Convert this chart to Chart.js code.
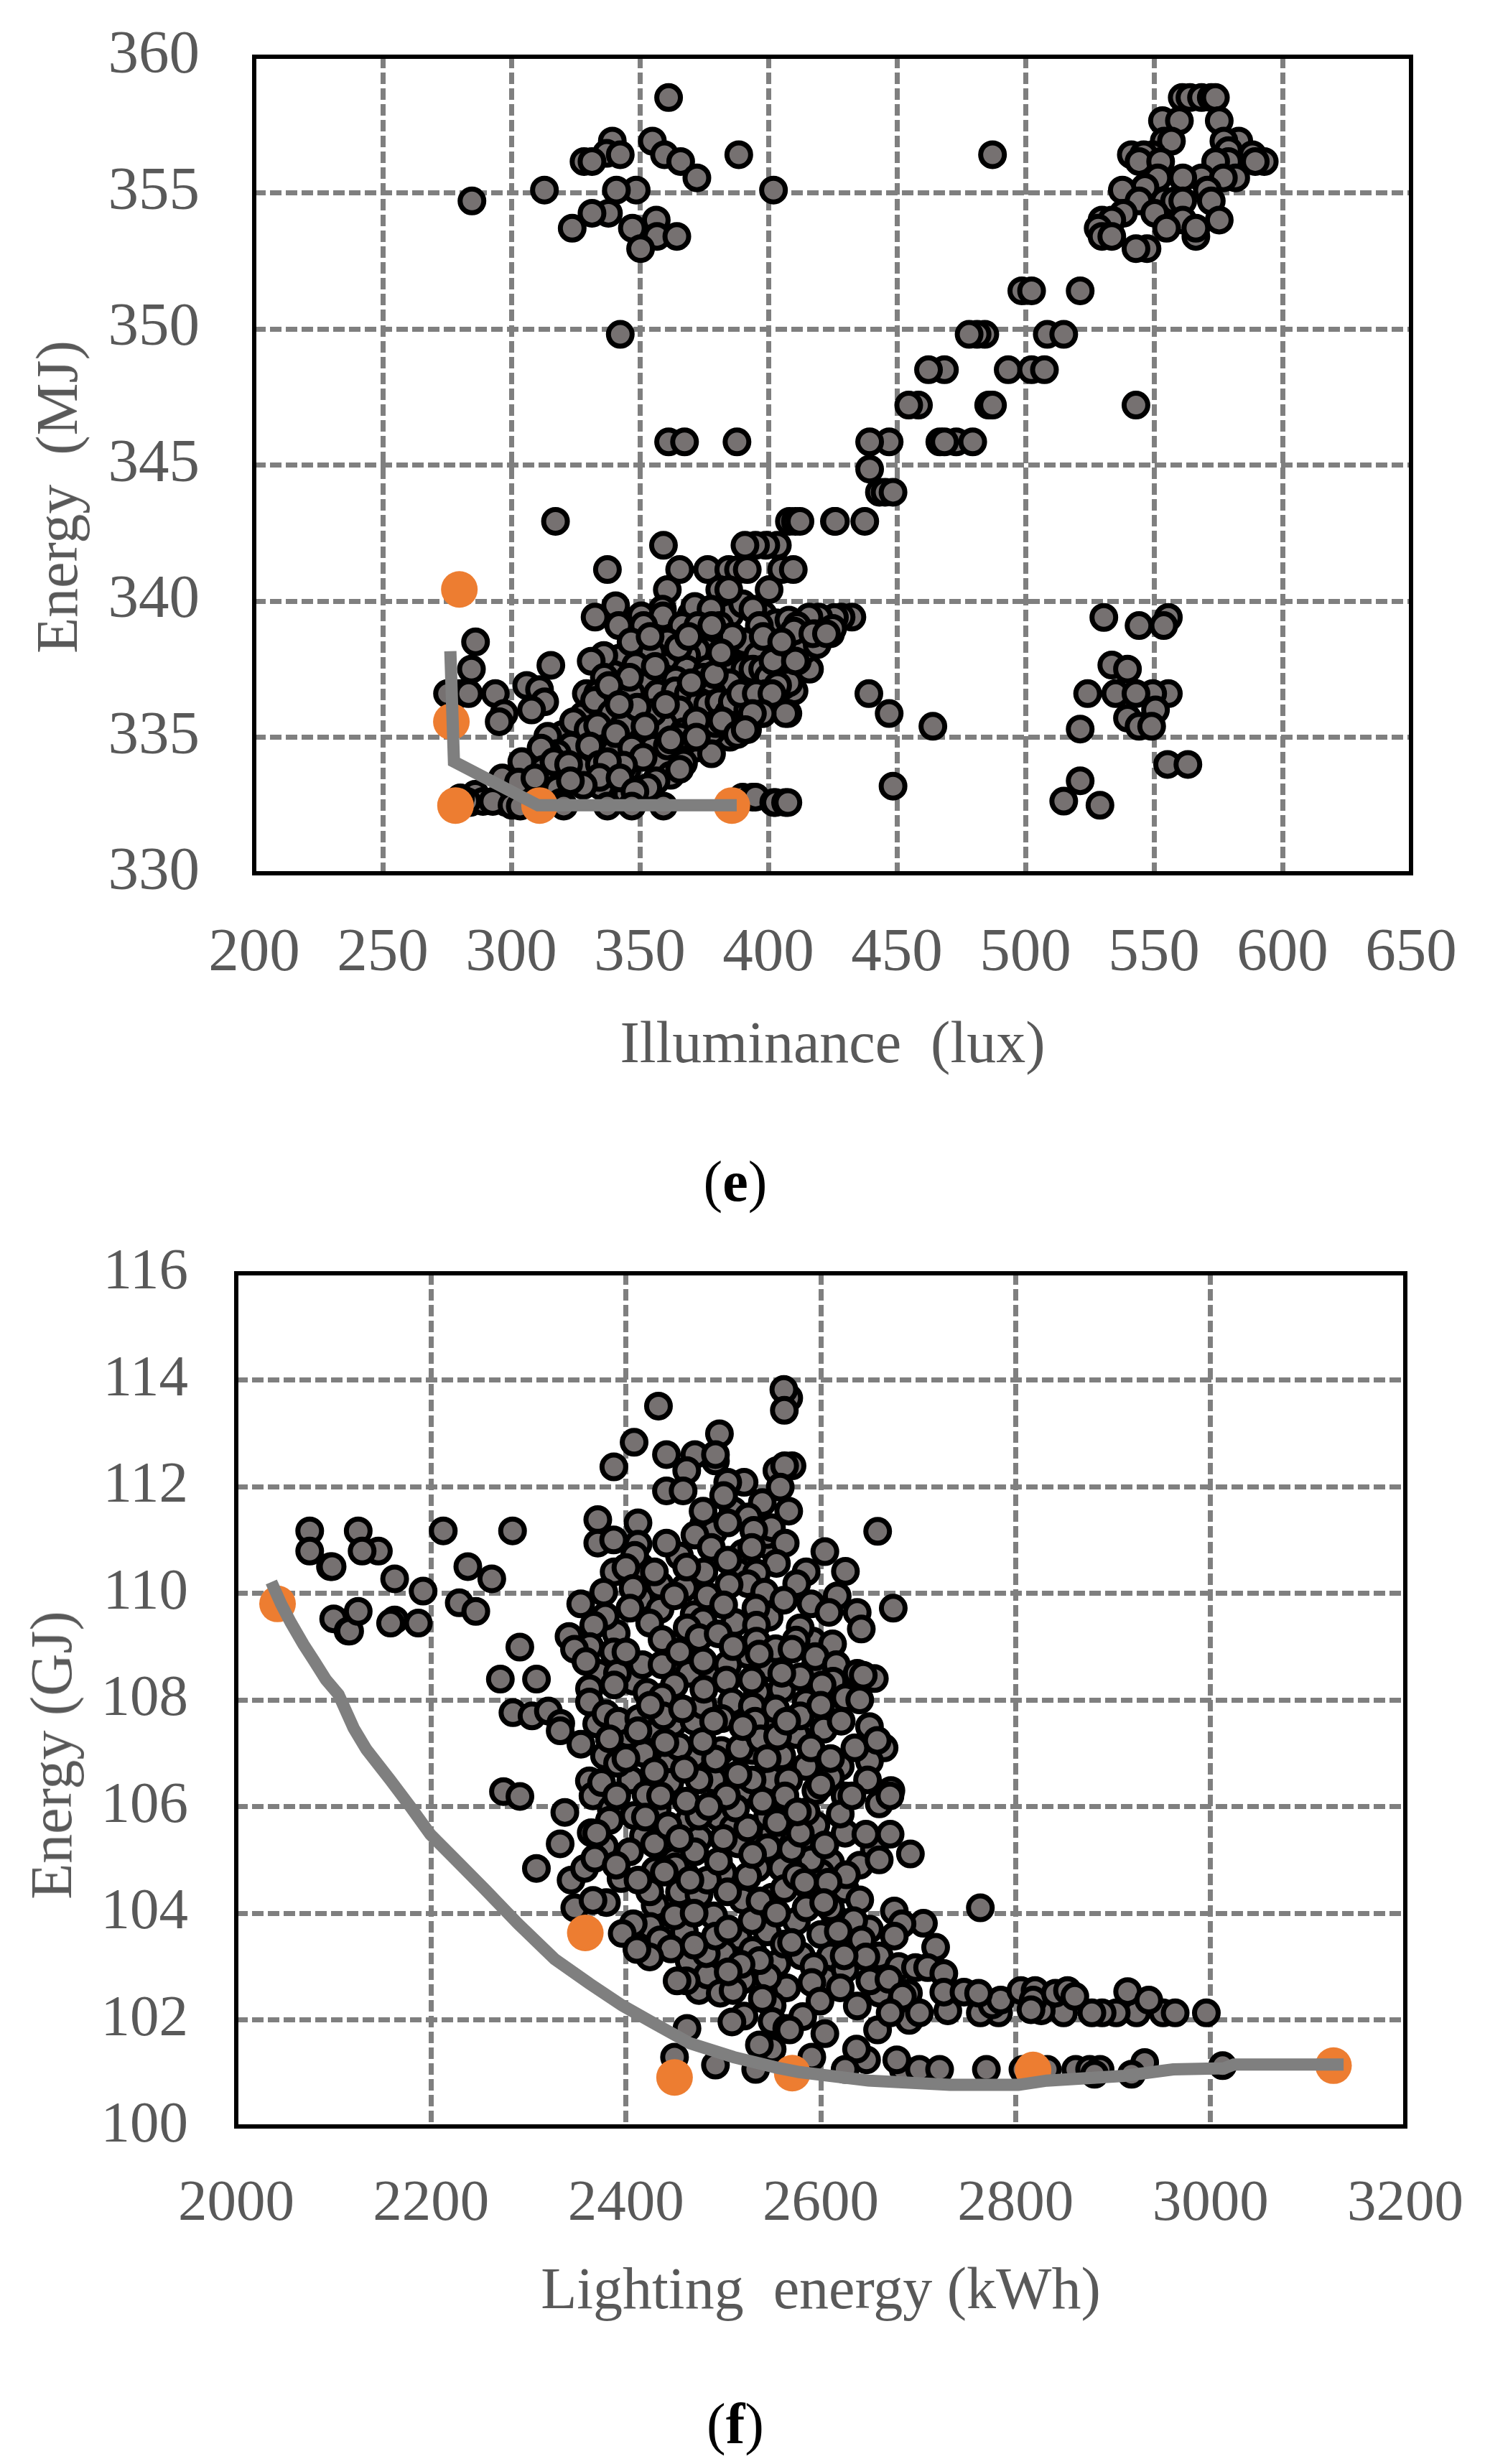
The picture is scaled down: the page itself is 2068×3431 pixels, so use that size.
<!DOCTYPE html>
<html>
<head>
<meta charset="utf-8">
<title>Pareto scatter plots</title>
<script src="https://cdn.jsdelivr.net/npm/chart.js@4/dist/chart.umd.min.js"></script>
<style>
  html, body { margin: 0; padding: 0; background: #fff; }
  #page { position: relative; width: 2068px; height: 3431px; overflow: hidden; }
  canvas { position: absolute; left: 0; }
  .txt { position: absolute; font-family: "Liberation Serif", serif; line-height: 1; white-space: pre; color: #595959; transform: translate(-50%, -50%); }
  .rot { transform: translate(-50%, -50%) rotate(-90deg); }
  .cap { color: #000; }
</style>
</head>
<body>
<div id="page">
  <canvas id="chartE" width="2068" height="1700" style="top:0"></canvas>
  <canvas id="chartF" width="2068" height="1731" style="top:1700px"></canvas>
  <div class="txt rot" style="left:80px;top:692px;font-size:82px">Energy  (MJ)</div>
  <div class="txt rot" style="left:72px;top:2444px;font-size:82px">Energy (GJ)</div>
  <div class="txt cap" style="left:1024px;top:1645px;font-size:80px">(<b>e</b>)</div>
  <div class="txt cap" style="left:1024px;top:3375px;font-size:80px">(<b>f</b>)</div>
</div>
<script>
// (e) illuminance vs energy
const illumTicks = [200, 250, 300, 350, 400, 450, 500, 550, 600, 650];
const energyMJTicks = [330, 335, 340, 345, 350, 355, 360];

const illumPareto = [[276.3, 338.16], [277.7, 334.1], [310.4, 332.5], [387.7, 332.5]];
const illumBest = [[279.8, 340.43], [276.7, 335.57], [278.3, 332.49], [311, 332.49], [385.8, 332.49]];

const illumTop = [
  [361.2,358.5],[339.3,356.9],[337.1,356.45],[342.4,356.4],[328.3,356.15],[331.4,356.15],[354.9,356.9],[359.6,356.4],
  [365.9,356.15],[372.2,355.55],[388.5,356.4],[284.7,354.7],[312.9,355.1],[348.6,355.1],[340.9,355.1],[337.8,354.25],
  [331.4,354.25],[323.7,353.7],[347.1,353.7],[356.4,354],[356.7,353.4],[364.4,353.4],[350.3,352.95],[342.4,349.8],
  [361.2,345.85],[367.4,345.85],[387.8,345.85],[402,355.1],[487.2,356.4]
];
const illumCorner = [
  [561,358.5],[564,358.5],[568.5,358.5],[572.3,358.5],[573.9,358.5],[553.3,357.65],[559.9,357.65],[575.4,357.65],
  [554,356.9],[556.8,356.9],[541.2,356.4],[549.5,356.4],[546,356.4],[544.2,356.15],[552.6,356.15],[583,356.9],[577.2,356.9],
  [579,356.55],[588.3,356.4],[592.9,356.15],[589.4,356.15],[579,356.15],[574,356.15],[551.5,355.55],[568.5,355.55],
  [581.8,355.55],[577,355.55],[561.2,355.55],[546.5,355.2],[537.7,355.1],[570.8,355.1],[544.2,354.7],[554.1,354.7],
  [558,354.7],[572.3,354.7],[561.2,354.7],[538.1,354.25],[550.3,354.25],[529.8,354],[533.6,354],[575.4,354],[561.2,354],
  [528.3,353.7],[554.9,353.7],[566.3,353.4],[566.3,353.7],[529.8,353.4],[533.6,353.4],[547.3,352.95],[543,352.95]
];
const illumRise = [
  [498.6,351.4],[502.4,351.4],[521.3,351.4],[484.2,349.8],[481.2,349.8],[478.1,349.8],[508.5,349.8],[514.9,349.8],
  [468.5,348.5],[462.3,348.5],[493.3,348.5],[502.4,348.5],[507.4,348.5],[458.4,347.2],[454.6,347.2],[485.7,347.2],
  [487.2,347.2],[543,347.2],[447,345.85],[439.4,345.85],[466.7,345.85],[473.1,345.85],[468.5,345.85],[479.5,345.85],
  [439.4,344.85],[443.2,344],[445.4,344],[448.5,344],[408.2,342.93],[410.5,342.93],[425.7,342.93],[437.5,342.93],
  [412.3,342.93],[426.1,342.93],[317.2,342.93],[403.5,342.05],[399,342.05],[395,342.05],[390.9,342.05],[359.2,342.05]
];
const illumLowerRight = [
  [530.5,339.4],[555.6,339.4],[544.2,339.1],[553.8,339.1],[533.6,337.65],[539.7,337.5],[524.2,336.6],[535.1,336.6],
  [555.6,336.6],[549.5,336.6],[543,336.6],[550.6,336],[539.7,335.7],[544.2,335.4],[549.1,335.4],[521.3,335.3],
  [555.3,334],[563.2,334],[521.3,333.4],[514.9,332.65],[529,332.5],[439.1,336.6],[447,335.87],[464,335.4],[448.5,333.2]
];
const illumFill = [
  [345,336],[350,336.5],[355,337.1],[360,337.9],[364,339],[370,339.5],[374,338.8],[380,338.6],[385,339.5],[390,339.9],
  [398,339.5],[403,339.2],[408,339.3],[412,338.2],[400,338.1],[390,337.1],[385,337.7],[380,336.9],[375,336.8],[370,336.1],
  [365,335.6],[358,336.9],[352,337.5],[347,338.1],[342,337.9],[340,337.3],[336,338],[333,336],[328,335.8],[338,335.3],
  [348,335],[355,334.6],[340,334.5],[326,334.9],[320,335.1],[335,333.2],[345,333.8],[358,334],[362,333.6],[372,334.6],
  [385,335],[393,335.7],[402,336.2],[410,336.7],[416,337.5],[395,337],[372,337.7],[362,336.6],[368,334.9],[378,335.2],
  [343,335.8],[331,335.1],[326,333.9],[313,333],[305,333.2],[318,333.1],[308,332.9],[284,332.6],[286,332.9],[298,332.6],[345,332.9]
];
const illumCloud = [
  [337.4,341.16],[365.5,341.16],[376.4,341.16],[384.6,341.16],[388.4,341.16],[391.8,341.16],[405.2,341.16],[409.7,341.16],
  [360.7,340.42],[381.1,340.42],[384.6,340.42],[400.3,340.42],[340.6,339.83],[358.8,339.7],[371.4,339.8],[377.7,339.7],
  [432.5,339.41],[428.3,339.41],[425.7,339.4],[419.6,339.41],[415.8,339.41],[411.2,339.1],[394,339.7],[332.6,339.41],
  [350.6,339.46],[359,339.46],[341.8,339.1],[351.5,339.1],[366.4,339.1],[372.6,339.1],[381.1,339.1],[396.5,339.1],
  [424.2,338.8],[418.3,338.8],[415.8,338.5],[346.6,338.5],[360.7,338.5],[391.5,338.5],[405.7,338.5],[390.7,338.5],
  [286.1,338.5],[284.5,337.5],[315.4,337.64],[331.1,337.79],[354.7,338.1],[375.8,338.2],[372,338.2],[368.2,338],
  [382.5,338.1],[348.4,337.64],[411.3,337.8],[402.8,337.8],[395.9,338],[368.2,337.5],[376.4,337.5],[390.9,337.5],
  [394,337.5],[397.8,337.5],[336.2,337.2],[358.8,337.2],[374.8,337.2],[385,337],[352,336.9],[364,337.1],
  [275.2,336.6],[280.2,336.6],[283.4,336.6],[293.8,336.6],[306,336.9],[311,336.75],[313,336.3],[307.9,336],
  [297.2,335.87],[295.3,335.57],[329.2,336.6],[333.6,336.6],[343.1,336.85],[346.7,336.6],[356.9,336.6],[363.8,336.7],
  [368.9,336.6],[378.3,336.6],[406,336.9],[400.9,336.6],[395.9,336.6],[390.3,336.6],[373.3,336.3],[376.4,336.2],
  [380.8,336.3],[332.4,336.35],[384.6,335.9],[397.8,335.87],[407.6,335.87],[338.9,335.87],[365.5,336],[324.2,335.57],
  [329.9,335.28],[333.6,335.42],[343.7,335.42],[354.4,335.47],[359.2,335.47],[367,335.2],[379.6,335.5],[391.9,335.28],
  [340.6,335.13],[314.2,335.03],[323.3,334.68],[330.5,334.68],[360.7,334.68],[365.7,335],[346.9,334.6],[351.3,334.26],
  [377.9,334.39],[367,334.05],[365.5,333.82],[317.9,334.4],[314.2,334.4],[311.6,334.6],[312.5,333.82],[316.6,334.1],
  [322.3,334],[304.1,334.1],[343.7,333.97],[334.3,334],[337.4,334.1],[334.3,333.52],[342.3,333.5],[328,333.23],
  [323,333.4],[296.5,333.5],[302.8,333.35],[309.2,333.5],[356.3,333.4],[353.1,333.15],[348.1,333],
  [337.4,332.47],[346.9,332.47],[359.2,332.47],[319.2,332.6],[289,332.64],[282.7,332.64],[280.2,332.77],[292.8,332.64],
  [300.3,332.5],[303.5,332.47],[320.4,332.47],[390,332.8],[393.8,332.8],[395,332.8],[402.1,332.6],[402.8,332.6],[406.7,332.6],[407.6,332.6],
  [355,335.9],[349,336.1],[360,336.2],[372,335.6],[386,336.3],[392,336],[370,337],[379,337.3],[356,337.6],[365,338.3],
  [346,337.2],[338,336.9],[342,336.2],[352,335.4],[362,334.9],[372,335],[382,335.6],[388,335.1],[400,337.2],[408,337],
  [414,338.2],[404,338],[398,338.7],[386,338.7],[378,339.1],[369,338.7],[354,338.7],[410,338.9],[419,338.4],[425,339],
  [401.8,337.8],[410.5,337.8],[403.6,336.9],[399,336.6],[389.2,336.6],[395.3,336.6],[401.4,336.6],[406.7,335.87],
  [397.6,335.87],[393.8,335.87],[391,335.28],[381.6,338.1],[405.2,338.5],[417.3,338.8],[422.6,338.8]
];
const illumPoints = illumTop.concat(illumCorner, illumRise, illumLowerRight, illumFill, illumCloud);

// (f) lighting energy vs energy
const lightingTicks = [2000, 2200, 2400, 2600, 2800, 3000, 3200];
const energyGJTicks = [100, 102, 104, 106, 108, 110, 112, 114, 116];

const lightingPareto = [
  [2036,110.21],[2046,109.8],[2056,109.45],[2069,109.04],[2080,108.73],[2092,108.38],[2105,108.1],[2120.5,107.47],
  [2133.6,107.07],[2158,106.5],[2178.6,106],[2199.2,105.48],[2223.6,105.03],[2255.5,104.44],[2289.3,103.8],[2326.8,103.14],
  [2362.5,102.68],[2396.2,102.27],[2428.1,101.94],[2465.7,101.56],[2510.7,101.3],[2555.7,101.1],[2578,101.02],[2649,100.86],
  [2732.5,100.78],[2803,100.78],[2832,100.86],[2911.7,100.95],[2961.7,101.07],[3013.8,101.09],[3024,101.16],[3136.7,101.16]
];
const lightingBest = [[2042.4,109.8],[2358.3,103.63],[2449.9,100.92],[2570.7,101],[2817.9,101.06],[3126.3,101.14]];

const lightingLeft = [
  [2075.4,111.17],[2075.4,110.79],[2125.2,111.17],[2145.9,110.79],[2129.2,110.79],[2096.7,110.5],[2098.4,110.5],[2162.6,110.27],
  [2191.8,110.04],[2212.5,111.17],[2283.6,111.17],[2237.7,110.5],[2262.3,110.27],[2228.9,109.82],[2245.9,109.66],[2100,109.52],
  [2114.8,109.29],[2116.4,109.29],[2125.2,109.66],[2162.6,109.5],[2158.4,109.44],[2186.9,109.44],[2291.1,108.99],[2271.1,108.39],
  [2308.2,108.39],[2284,107.76],[2303.6,107.7],[2320.4,107.79],[2333.1,107.56],[2274.3,106.28],[2291.2,106.19],[2337.3,105.89],
  [2362.5,106.48],[2366.2,106.2],[2353.8,107.17],[2332.5,107.42],[2308.1,104.84],[2332.5,105.3],[2343.7,104.62],[2357.6,104.84],
  [2347.5,104.1],[2364.4,105.51]
];
const lightingFill = [
  [2415,109.9],[2470,109.6],[2512,109.45],[2547,109.55],[2592,109.1],[2435,109.7],[2390,109.25],[2445,108.7],[2465,108.5],[2525,108.85],
  [2548,108.6],[2592,108.55],[2372,108.5],[2408,108.35],[2490,108.55],[2535,108.15],[2560,108.2],[2585,107.95],[2655,108.4],[2620,108.15],
  [2370,107.55],[2402,107.35],[2428,107.45],[2448,107.55],[2470,107.6],[2510,107.75],[2545,107.5],[2575,107.35],[2603,107.45],[2650,107.5],[2665,107.1],
  [2378,106.95],[2418,107],[2445,106.85],[2470,106.95],[2498,107.05],[2530,107.05],[2560,106.95],[2585,106.75],[2620,106.75],[2650,106.85],
  [2375,106.45],[2405,106.5],[2445,106.45],[2490,106.5],[2520,106.3],[2550,106.5],[2595,106.3],[2610,106.55],[2660,106.05],
  [2385,105.95],[2432,105.95],[2465,105.75],[2495,105.8],[2510,105.6],[2560,105.95],[2595,105.65],[2625,105.5],[2655,105.2],
  [2378,105.25],[2418,105.45],[2445,105.2],[2475,105.4],[2515,105.3],[2550,105.5],[2580,105.35],[2610,104.95],[2640,104.9],[2660,105],
  [2395,104.65],[2430,104.8],[2460,104.75],[2500,104.75],[2535,104.85],[2560,104.85],[2600,104.75],[2625,104.45],
  [2380,104.2],[2430,104.15],[2455,104.4],[2475,104.35],[2520,104.25],[2550,104.3],[2590,104.4],[2640,104.25],
  [2425,103.75],[2460,103.65],[2490,103.95],[2515,103.55],[2545,103.65],[2575,103.85],[2615,103.9],[2650,103.7],
  [2435,103.5],[2465,103.1],[2500,103.25],[2530,103.3],[2555,103.05],[2580,103.2],[2610,103.2],[2660,103.2],[2680,103],
  [2475,102.55],[2520,102.75],[2565,102.6],[2605,102.75],[2625,102.95],[2660,102.5],[2690,102.5],
  [2455,110.7],[2480,110.4],[2520,110.75],[2550,110.85],[2585,110.4],[2435,110.15],[2460,110.1],[2515,110.4],[2590,109.8],[2415,110.5],
  [2480,111.3],[2510,111.55],[2540,111.7],[2545,111.1],[2490,111.15]
];
const lightingCloud = [
  [2433.4,113.51],[2567.1,113.66],[2562.1,113.82],[2562.6,113.43],[2408.4,112.83],[2387.6,112.37],[2496,112.99],[2441.6,112.6],
  [2491.9,112.48],[2470.8,112.6],[2491.9,112.6],[2462.4,112.3],[2555,112.3],[2570.5,112.39],[2562.9,112.39],[2521.3,112.08],
  [2504.5,112.08],[2441.6,111.92],[2458.7,111.92],[2558.4,111.99],[2500.3,111.83],[2479.2,111.54],[2567.1,111.54],[2525.6,111.43],
  [2371.1,111.38],[2412.4,111.32],[2658.4,111.16],[2504.5,111.32],[2549.4,111.23],[2470.8,111.09],[2531.2,111.18],[2371.1,110.94],
  [2387.4,111],[2412.4,110.92],[2441.6,110.94],[2563.5,110.94],[2529.2,110.86],[2487.6,110.86],[2409,110.71],[2604.2,110.78],
  [2462.4,110.49],[2504.5,110.62],[2554.5,110.56],[2387.9,110.4],[2400,110.48],[2429.2,110.4],[2625.3,110.41],[2534,110.38],
  [2575.3,110.18],[2525,110.18],[2505.9,110.16],[2377.2,110.02],[2407.3,110.09],[2616.9,109.95],[2449.7,109.95],[2483.4,109.95],
  [2542.4,110.02],[2353.6,109.8],[2404.2,109.72],[2562.1,109.87],[2500.3,109.78],[2533.4,109.72],[2608.4,109.64],[2637.4,109.64],
  [2674.4,109.72],[2378.9,109.57],[2366.9,109.4],[2641.6,109.33],[2479.2,109.48],[2424.4,109.44],[2462.9,109.35],[2341.6,109.19],
  [2578.9,109.35],[2534,109.4],[2437.1,109.13],[2475,109.17],[2494.7,109.24],[2574.7,109.12],[2612.1,109.05],[2534,109.1],
  [2362.9,109],[2347.2,108.95],[2387.4,108.9],[2553.7,108.96],[2594.4,108.81],[2570.5,108.95],[2358.9,108.72],[2416.9,108.66],
  [2437.1,108.66],[2479.2,108.73],[2504.5,108.66],[2536.8,108.86],[2616,108.66],[2637.4,108.5],[2578.9,108.43],[2643.6,108.46],
  [2391.3,108.5],[2503.1,108.37],[2529.2,108.37],[2612.6,108.35],[2601.4,108.28],[2362.6,108.21],[2387.9,108.28],[2449.7,108.28],
  [2421.6,108.14],[2437.1,108.05],[2362.6,107.96],[2625.3,108.04],[2508.7,107.96],[2479.2,107.9],[2529.8,107.88],[2578.9,107.7],
  [2621,107.6],[2379.5,107.74],[2392.1,107.6],[2413.2,107.65],[2438.5,107.7],[2458.1,107.83],[2498.4,107.65],[2532.6,107.6],
  [2553.7,107.83],[2383.1,107.27],[2412.4,107.42],[2391.4,106.81],[2429.3,106.66],[2420.6,106.22],[2390.6,106.2],[2383.1,105.74],
  [2408.6,105.83],[2429.3,105.3],[2403.8,105.15],[2449.9,104.99],[2368.1,105.03],[2424.4,104.4],[2412.4,104.62],[2366.2,104.24],
  [2407.5,103.8],[2396.2,103.62],[2449.9,103.95],[2446.2,103.33],[2424.4,103.18],[2411.3,103.32],[2483.7,102.84],[2461.9,102.73],
  [2452.5,102.73],[2496.8,102.5],[2510,102.55],[2545.6,102.8],[2482.5,103.24],[2491.9,103.57],[2529.5,103.86],[2562.5,103.42],
  [2537,103.11],[2518.2,103.04],[2483.7,104.62],[2504.3,104.4],[2537.7,104.23],[2562.5,104.46],[2554.6,104],[2470.6,105.15],
  [2525,104.69],[2495,104.97],[2475,105.82],[2525,105.6],[2545.6,105.23],[2512.6,105.97],[2545.6,105.82],[2475,106.5],
  [2529.5,106.5],[2567,106.5],[2491.9,106.89],[2517.1,107.09],[2538.1,107.27],[2454.4,107.12],[2478.8,107.22],[2555.7,107.32],
  [2435.6,106.2],[2443.2,105.64],[2503.2,106.2],[2461.9,106.1],[2563.2,106.2],[2450.7,104.87],[2465.7,104.62],[2439.4,104.77],
  [2550.1,102.27],[2521.2,102.07],[2508.8,101.96],[2550.1,101.97],[2565.1,101.84],[2550.1,101.45],[2537,101.53],[2491.9,101.15],
  [2533.2,101.07],[2449.9,101.3],[2462.7,101.84],
  [2590,107.1],[2610,106.9],[2635,107.1],[2658,107.24],[2648,106.5],[2672,106.3],[2600,106.4],[2625,106.2],[2585,105.9],
  [2590,105],[2575,104.7],[2585,104.1],[2610,104.1],[2570,105.2],[2555,105.7],[2500,105.4],[2470,104],[2505,103.7],
  [2530,105.1],[2515,106.6],[2490,107.6],[2440,107.2],[2420,105.8],[2455,105.4],[2485,106],[2540,106.1],[2565,107.6],
  [2600,107.9],[2640,108],[2455,108.9],[2510,109],[2425,107.9],[2400,108.9],[2390,104.9],[2370,105.5],[2560,108.5],
  [2480,108.2],[2520,107.5],[2460,106.7],[2545,106.9],[2400,106.9],[2505,102.9],[2540,102.4],[2470,103.4]
];
const lightingTail = [
  [2671.2,105.48],[2692,105.11],[2646.3,105.48],[2620,105.86],[2632,106.2],[2671,106.2],[2579,105.5],[2576,105.9],[2604.2,105.28],
  [2626.3,104.72],[2607.5,104.58],[2583.3,104.58],[2603,104.2],[2763.8,104.1],[2675.5,104.04],[2633.8,103.86],[2705.4,103.81],[2683.4,103.8],
  [2600,103.6],[2618,103.66],[2675.5,103.57],[2642,103.5],[2570,103.45],[2717.9,103.36],[2646.3,103.18],[2624,103.2],[2593,103],
  [2697.2,102.98],[2709.7,102.98],[2726.3,102.87],[2650.4,102.73],[2670,102.76],[2590.8,102.7],[2620,102.6],[2599.2,102.35],[2637.5,102.26],
  [2683.8,102.44],[2690.8,101.99],[2658.3,101.81],[2581.5,102.06],[2604.2,101.74],[2568,101.81],
  [2951.3,102.13],[2963.8,102.13],[2995.8,102.13],[2924.2,102.13],[2903.3,102.13],[2888.8,102.13],[2878.3,102.13],[2849.2,102.13],[2826.3,102.17],
  [2782.5,102.13],[2763.8,102.13],[2730.4,102.17],[2701.3,102.13],[2671.2,102.13],[2776,102.28],[2784.6,102.37],[2805.4,102.55],[2820,102.55],
  [2818,102.37],[2815.8,102.19],[2840.8,102.5],[2853.3,102.55],[2860.8,102.44],[2915,102.53],[2936.7,102.37],[2726.3,102.52],[2747,102.52],[2762,102.5],
  [2684.6,101.07],[2701.3,101.07],[2722,101.07],[2770,101.07],[2807.5,101.07],[2832.5,101.07],[2861.7,101.07],[2876,101.07],[2886.7,101.07],
  [2932.5,101.2],[2919,100.98],[2881,100.98],[3012.5,101.14],[2678,101.25],[2647,101.25],[2636.7,101.45],[2625,101.07],[2590.8,101.3]
];
const lightingPoints = lightingLeft.concat(lightingFill, lightingCloud, lightingTail);

const toXY = pairs => pairs.map(([x, y]) => ({ x: x, y: y }));

// black frame round the plot area
const framePlugin = {
  id: 'frame',
  beforeDatasetsDraw(chart) {
    const a = chart.chartArea;
    const ctx = chart.ctx;
    ctx.save();
    ctx.strokeStyle = '#000';
    ctx.lineWidth = 6;
    ctx.strokeRect(a.left, a.top, a.right - a.left, a.bottom - a.top);
    ctx.restore();
  }
};

function axis(ticks, box, opts) {
  const first = ticks[0];
  const last = ticks[ticks.length - 1];
  return Object.assign({
    type: 'linear',
    min: first,
    max: last,
    afterBuildTicks: scale => { scale.ticks = ticks.map(v => ({ value: v })); },
    // fixed axis boxes, and no extra room for the end labels, so the plot area lands where it should
    afterFit: scale => {
      Object.assign(scale, box);
      scale.paddingLeft = scale.paddingRight = scale.paddingTop = scale.paddingBottom = 0;
    },
    border: { display: false, dash: [16, 6] },
    grid: {
      drawTicks: false,
      lineWidth: 7,
      color: c => (c.tick.value === first || c.tick.value === last) ? 'rgba(0,0,0,0)' : '#7f7f7f'
    },
    ticks: {
      autoSkip: false,
      maxRotation: 0,
      color: '#595959',
      font: { family: '"Liberation Serif"', size: opts.tickSize },
      padding: opts.tickPad,
      callback: v => String(v)
    }
  }, opts.extra || {});
}

function makeChart(id, cfg) {
  new Chart(document.getElementById(id), {
    type: 'scatter',
    data: {
      datasets: [
        { label: 'Pareto front', data: toXY(cfg.line), showLine: true, borderColor: '#7f7f7f', borderWidth: 17, pointRadius: 0, tension: 0, borderJoinStyle: 'miter', borderCapStyle: 'butt' },
        { label: 'Selected', data: toXY(cfg.best), backgroundColor: '#ed7d31', borderWidth: 0, pointRadius: 25.5 },
        { label: 'Solutions', data: toXY(cfg.points), backgroundColor: '#767171', borderColor: '#000', borderWidth: 7, pointRadius: 16.5 }
      ]
    },
    options: {
      responsive: false,
      animation: false,
      layout: { padding: cfg.padding },
      plugins: { legend: { display: false }, tooltip: { enabled: false } },
      scales: { x: cfg.x, y: cfg.y }
    },
    plugins: [framePlugin]
  });
}

makeChart('chartE', {
  line: illumPareto,
  best: illumBest,
  points: illumPoints,
  padding: { left: 0, right: 2068 - 1965, top: 79, bottom: 0 },
  x: axis(illumTicks, { height: 1700 - 1216 }, {
    tickSize: 85, tickPad: 62,
    extra: { title: { display: true, text: 'Illuminance  (lux)', color: '#595959', font: { family: '"Liberation Serif"', size: 82 }, padding: { top: 0, bottom: 193 } } }
  }),
  y: axis(energyMJTicks, { width: 354 }, { tickSize: 85, tickPad: 76 })
});

makeChart('chartF', {
  line: lightingPareto,
  best: lightingBest,
  points: lightingPoints,
  padding: { left: 0, right: 2068 - 1957, top: 1773 - 1700, bottom: 0 },
  x: axis(lightingTicks, { height: 1700 + 1731 - 2961 }, {
    tickSize: 81, tickPad: 60,
    extra: { title: { display: true, text: 'Lighting  energy (kWh)', color: '#595959', font: { family: '"Liberation Serif"', size: 82 }, padding: { top: 0, bottom: 189 } } }
  }),
  y: axis(energyGJTicks, { width: 329 }, { tickSize: 81, tickPad: 67 })
});
</script>
</body>
</html>
